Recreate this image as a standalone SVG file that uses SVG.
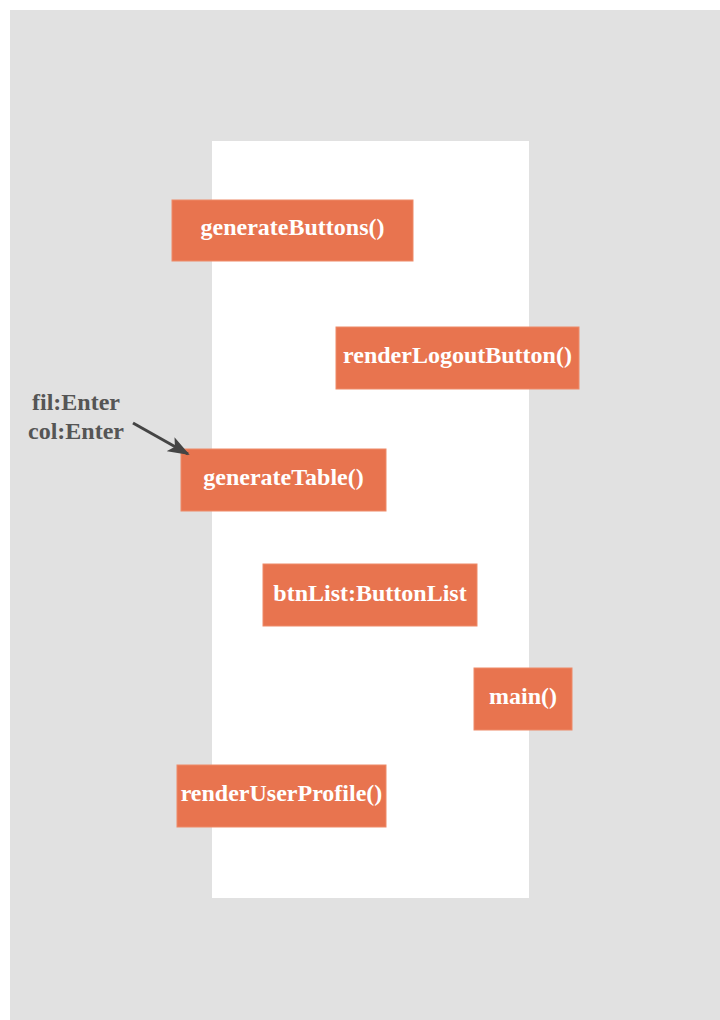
<svg xmlns="http://www.w3.org/2000/svg" width="720" height="1020" viewBox="0 0 720 1020">
<style>
.n rect{fill:#E8744F;stroke:#EE8A68;stroke-width:1}
.n text{fill:#fff;font-family:"Liberation Serif",serif;font-weight:bold;font-size:24px;text-anchor:middle}
.lbl{fill:#555;font-family:"Liberation Serif",serif;font-weight:bold;font-size:24px;text-anchor:middle}
</style>
<defs>
<marker id="ah" viewBox="0 0 22 16" refX="20" refY="8" markerWidth="22" markerHeight="16" orient="auto" markerUnits="userSpaceOnUse">
<path d="M0,0 L22,8 L0,16 L5,8 z" fill="#444"/>
</marker>
</defs>
<rect x="10" y="10" width="710" height="1010" fill="#E1E1E1"/>
<rect x="212" y="141" width="317" height="757" fill="#fff"/>
<g id="generateButtons" class="n"><rect x="172" y="200" width="241" height="61"/><text x="292.5" y="235">generateButtons()</text></g>
<g id="renderLogoutButton" class="n"><rect x="336" y="327" width="243" height="62"/><text x="457.5" y="363">renderLogoutButton()</text></g>
<g id="generateTable" class="n"><rect x="181" y="449" width="205" height="62"/><text x="283.5" y="485">generateTable()</text></g>
<g id="btnList" class="n"><rect x="263" y="564" width="214" height="62"/><text x="370" y="601">btnList:ButtonList</text></g>
<g id="main" class="n"><rect x="474" y="668" width="98" height="62"/><text x="523" y="704">main()</text></g>
<g id="renderUserProfile" class="n"><rect x="177" y="765" width="209" height="62"/><text x="281.5" y="801">renderUserProfile()</text></g>
<g id="connectors">
<line x1="133" y1="423" x2="188" y2="454" stroke="#444" stroke-width="3" marker-end="url(#ah)"/>
</g>
<g id="label"><text class="lbl" x="76" y="410">fil:Enter</text><text class="lbl" x="76" y="439">col:Enter</text></g>
</svg>
